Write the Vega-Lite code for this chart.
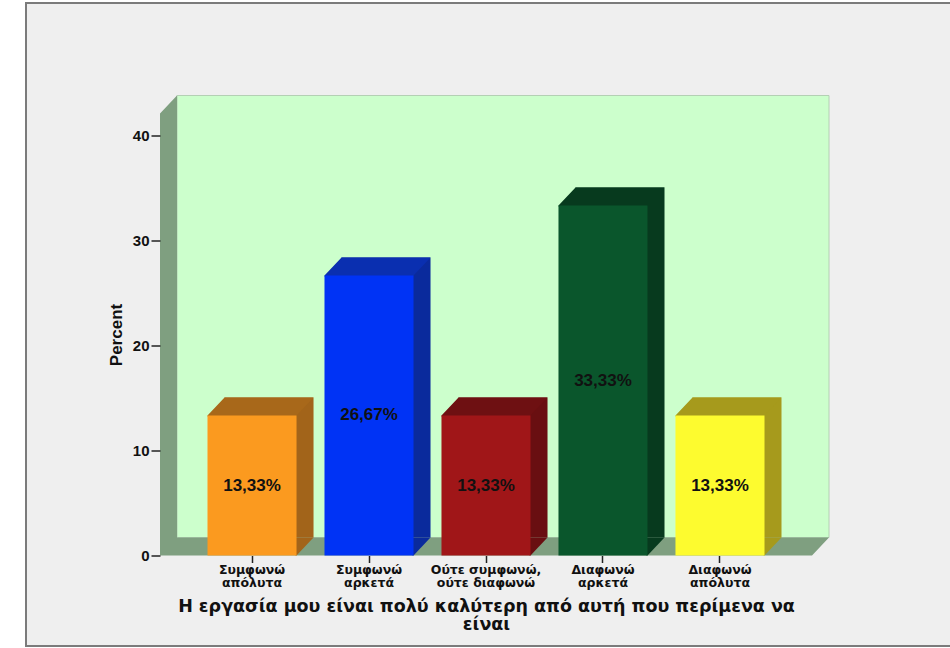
{
  "$schema": "https://vega.github.io/schema/vega-lite/v6.json",
  "width": 652,
  "height": 442,
  "autosize": {"type": "none"},
  "padding": {"left": 160, "top": 113.5, "right": 138, "bottom": 92.5},
  "background": "#ffffff",
  "datasets": {
    "responses": [
      {"category": "Συμφωνώ\nαπόλυτα", "percent": 13.33, "label": "13,33%"},
      {"category": "Συμφωνώ\nαρκετά", "percent": 26.67, "label": "26,67%"},
      {"category": "Ούτε συμφωνώ,\nούτε διαφωνώ", "percent": 13.33, "label": "13,33%"},
      {"category": "Διαφωνώ\nαρκετά", "percent": 33.33, "label": "33,33%"},
      {"category": "Διαφωνώ\nαπόλυτα", "percent": 13.33, "label": "13,33%"}
    ],
    "chart": [{"bottom": 0}]
  },
  "layer": [
    {
      "description": "Outer panel with its dark frame, anchored on the zero line",
      "data": {"name": "chart"},
      "mark": {"type": "point", "filled": true, "opacity": 1, "fill": "#efefef", "stroke": "#7b7b7b", "strokeWidth": 2, "size": 4, "shape": "M-460,90.5L-460,-552.5L474,-552.5L474,90.5Z"},
      "encoding": {
        "y": {
          "field": "bottom", "type": "quantitative",
          "scale": {"domain": [0, 42.1], "nice": false},
          "axis": {
            "zindex": 1,
            "title": "Percent", "titleFont": "Liberation Sans", "titleFontSize": 17, "titleFontWeight": "bold", "titleColor": "#111111", "titlePadding": 7,
            "values": [0, 10, 20, 30, 40],
            "labelFont": "Liberation Sans", "labelFontSize": 15, "labelFontWeight": "bold", "labelColor": "#111111", "labelPadding": 2,
            "tickSize": 9, "tickWidth": 1.5, "tickColor": "#222222", "domain": false, "grid": false
          }
        }
      }
    },
    {
      "description": "Back wall of the 3D box",
      "data": {"name": "chart"},
      "mark": {"type": "point", "filled": true, "opacity": 1, "fill": "#ccffcc", "stroke": "#b4d0b4", "strokeWidth": 1, "size": 4, "shape": "M-309,-18L-309,-460L343,-460L343,-18Z"},
      "encoding": {"y": {"field": "bottom", "type": "quantitative"}}
    },
    {
      "description": "Left wall and floor of the 3D box",
      "data": {"name": "chart"},
      "mark": {"type": "point", "filled": true, "opacity": 1, "fill": "#7f9f80", "strokeWidth": 0, "size": 4, "shape": "M-326,0L-309,-18L343,-18L326,0Z M-326,0L-326,-442L-309,-460L-309,-18Z"},
      "encoding": {"y": {"field": "bottom", "type": "quantitative"}}
    },
    {
      "description": "Side faces: each bar repeated one depth step up and to the right",
      "data": {"name": "responses"},
      "mark": {"type": "bar", "xOffset": 17, "x2Offset": 17, "yOffset": -18, "y2Offset": -18},
      "encoding": {
        "x": {
          "field": "category", "type": "nominal", "sort": null,
          "scale": {"paddingInner": 0.239, "paddingOuter": 0.406},
          "axis": {
            "zindex": 1,
            "title": ["Η εργασία μου είναι πολύ καλύτερη από αυτή που περίμενα να", "είναι"],
            "titleFont": "DejaVu Sans", "titleFontSize": 17.5, "titleFontWeight": "bold", "titleColor": "#111111",
            "titleLineHeight": 18, "titlePadding": 8,
            "labelExpr": "split(datum.label, '\\n')",
            "labelAngle": 0, "labelFont": "DejaVu Sans", "labelFontSize": 12.5, "labelFontWeight": "bold", "labelColor": "#111111",
            "labelLineHeight": 13, "labelPadding": 1, "labelLimit": 200,
            "tickSize": 7, "tickWidth": 1.5, "tickColor": "#222222", "domain": false, "grid": false
          }
        },
        "y": {"field": "percent", "type": "quantitative"},
        "color": {"field": "category", "type": "nominal", "sort": null, "legend": null,
          "scale": {"range": ["#a2641a", "#0a2a9c", "#690f11", "#073a1e", "#a69a1c"]}}
      }
    },
    {
      "description": "Lower corner of each side face",
      "data": {"name": "responses"},
      "mark": {"type": "point", "filled": true, "opacity": 1, "strokeWidth": 0, "size": 4, "shape": "M43.5,0L44.5,0L61.5,-18L43.5,-18Z"},
      "encoding": {
        "x": {"field": "category", "type": "nominal", "sort": null},
        "y": {"datum": 0, "type": "quantitative"},
        "color": {"field": "category", "type": "nominal", "sort": null, "legend": null,
          "scale": {"range": ["#a2641a", "#0a2a9c", "#690f11", "#073a1e", "#a69a1c"]}}
      }
    },
    {
      "description": "Top faces",
      "data": {"name": "responses"},
      "mark": {"type": "point", "filled": true, "opacity": 1, "strokeWidth": 0, "size": 4, "shape": "M-44.5,1L-44.5,0L-27.5,-18L61.5,-18L44.5,0L44.5,1Z"},
      "encoding": {
        "x": {"field": "category", "type": "nominal", "sort": null},
        "y": {"field": "percent", "type": "quantitative"},
        "color": {"field": "category", "type": "nominal", "sort": null, "legend": null,
          "scale": {"range": ["#a8681a", "#0a2fb0", "#6e1012", "#073a1e", "#a69a1c"]}}
      }
    },
    {
      "description": "Front faces",
      "data": {"name": "responses"},
      "mark": {"type": "bar"},
      "encoding": {
        "x": {"field": "category", "type": "nominal", "sort": null},
        "y": {"field": "percent", "type": "quantitative"},
        "color": {"field": "category", "type": "nominal", "sort": null, "legend": null,
          "scale": {"range": ["#fb9a1f", "#0033f5", "#a01618", "#0a562c", "#fdfb2f"]}}
      }
    },
    {
      "description": "Value labels centred in the bars",
      "data": {"name": "responses"},
      "transform": [{"calculate": "datum.percent / 2", "as": "middle"}],
      "mark": {"type": "text", "font": "Liberation Sans", "fontSize": 17, "fontWeight": "bold", "color": "#111111", "align": "center", "baseline": "middle"},
      "encoding": {
        "x": {"field": "category", "type": "nominal", "sort": null},
        "y": {"field": "middle", "type": "quantitative"},
        "text": {"field": "label", "type": "nominal"}
      }
    }
  ],
  "resolve": {"scale": {"color": "independent"}}
}
